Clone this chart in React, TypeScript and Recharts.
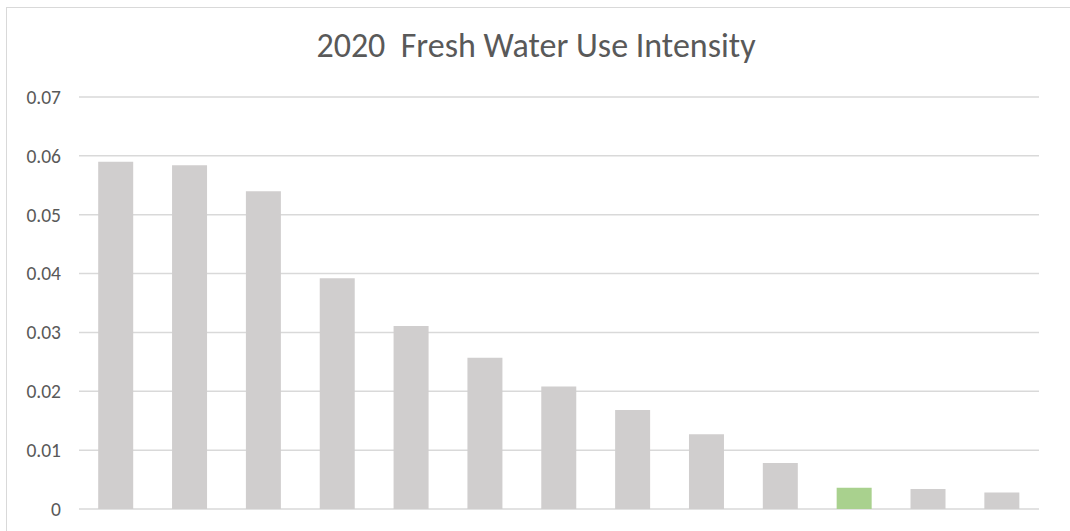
import { BarChart, Bar, XAxis, YAxis, CartesianGrid, Cell } from 'recharts';

const categories = ['1', '2', '3', '4', '5', '6', '7', '8', '9', '10', '11', '12', '13'];
const intensity = [0.059, 0.0584, 0.054, 0.0392, 0.0311, 0.0257, 0.0208, 0.0168, 0.0127, 0.0078, 0.0036, 0.0034, 0.0028];
const highlighted = ['11'];
const yTicks = [0, 0.01, 0.02, 0.03, 0.04, 0.05, 0.06, 0.07];

const data = categories.map((name, i) => ({ name, value: intensity[i] }));

const font = 'Carlito, Calibri, Lato, sans-serif';

export default function App() {
  return (
    <div style={{ position: 'absolute', left: 0, top: 0, width: 1070, height: 531, background: '#fff', overflow: 'hidden', fontFamily: font }}>
      {/* chart frame */}
      <div style={{ position: 'absolute', left: 6, top: 7, width: 1080, height: 540, border: '1.5px solid #D9D9D9' }} />
      <div style={{ position: 'absolute', left: 0, top: 26, width: 1072, textAlign: 'center', fontSize: 34, lineHeight: '40px', color: '#595959', whiteSpace: 'pre' }}>
        {'2020  Fresh Water Use Intensity'}
      </div>
      <div style={{ position: 'absolute', left: 0, top: 0 }}>
        <BarChart width={1070} height={531} data={data} margin={{ top: 97, right: 31, bottom: 22, left: 0 }} barCategoryGap="26%">
          <CartesianGrid vertical={false} stroke="#D9D9D9" strokeWidth={1.5} />
          <XAxis dataKey="name" hide />
          <YAxis
            width={79}
            domain={[0, 0.07]}
            ticks={yTicks}
            axisLine={false}
            tickLine={false}
            tickMargin={12}
            tick={{ fill: '#595959', fontSize: 19.5, fontFamily: font }}
            tickFormatter={(v: number) => (v === 0 ? '0' : v.toFixed(2))}
          />
          <Bar dataKey="value" isAnimationActive={false}>
            {data.map((d) => (
              <Cell key={d.name} fill={highlighted.includes(d.name) ? '#A9D18E' : '#D0CECE'} />
            ))}
          </Bar>
        </BarChart>
      </div>
    </div>
  );
}
